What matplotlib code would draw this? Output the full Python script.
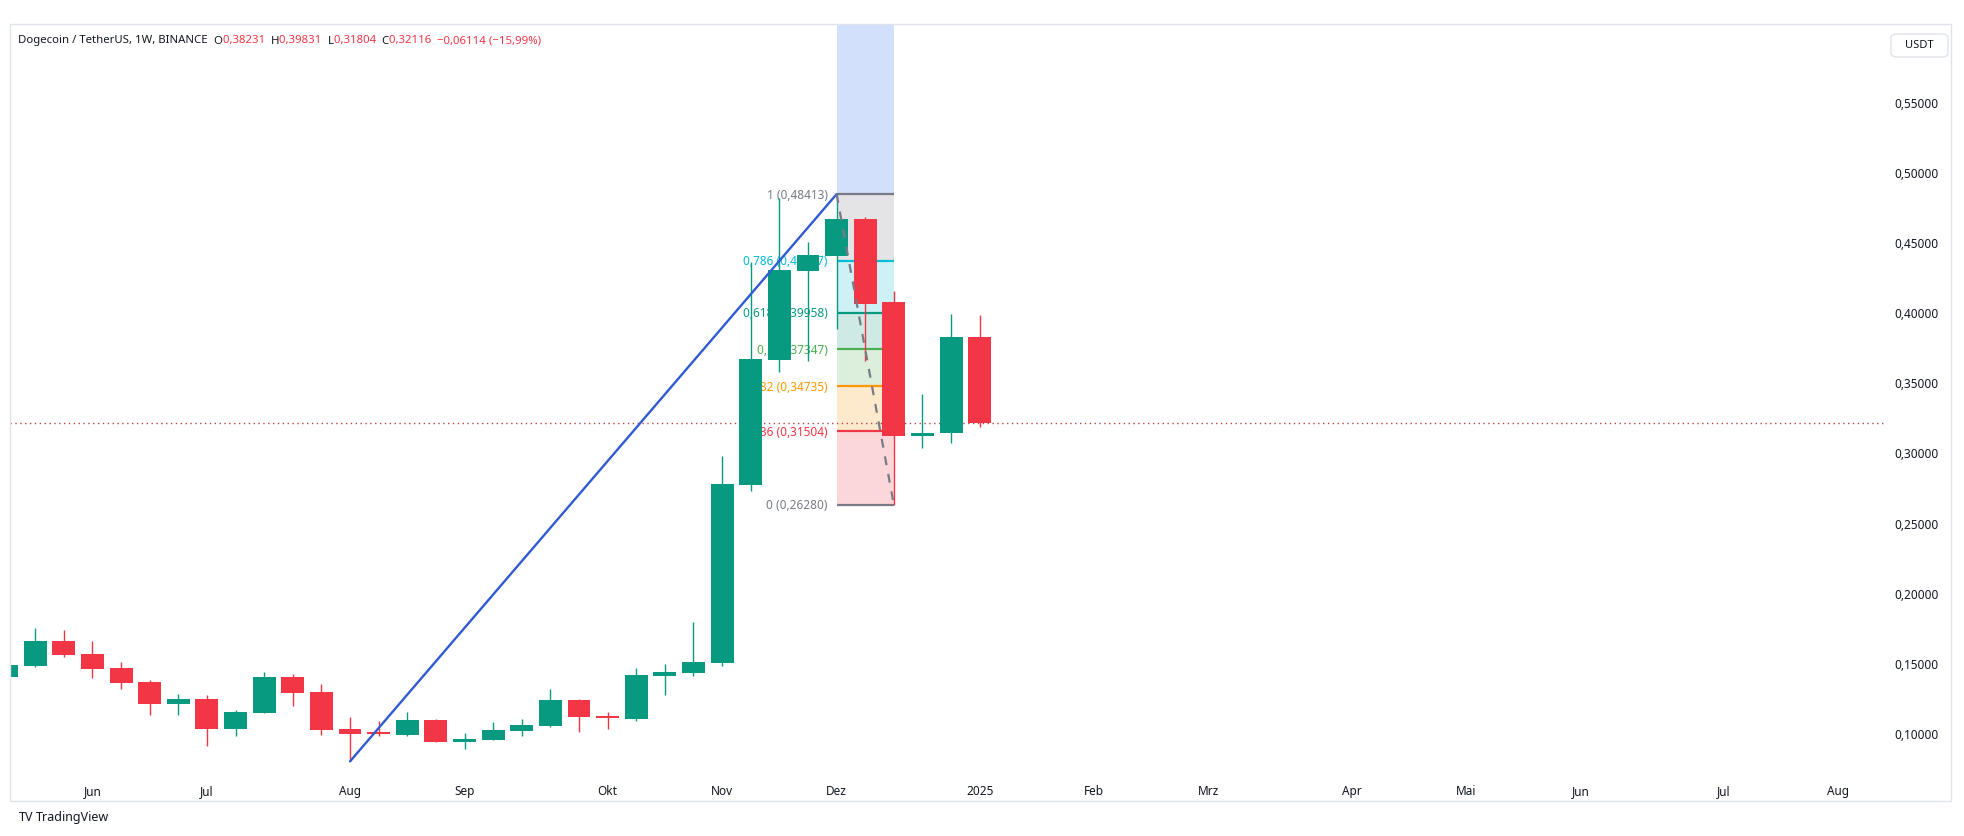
import matplotlib
matplotlib.use('Agg')
import matplotlib.pyplot as plt
from matplotlib.patches import Rectangle, FancyBboxPatch

plt.rcParams['font.family'] = ['Noto Sans', 'DejaVu Sans']

# weekly candles, week index 0 = week of 3 Jun 2024
weeks = list(range(-3, 32))
opens = [0.1401, 0.1480, 0.1656, 0.1563, 0.1463, 0.1366, 0.1207, 0.1243, 0.1029, 0.1142,
         0.1399, 0.1292, 0.1029, 0.1000, 0.0986, 0.1093, 0.0938, 0.0952, 0.1017, 0.1052,
         0.1235, 0.1114, 0.1100, 0.1409, 0.1428, 0.1499, 0.2770, 0.3660, 0.4296, 0.4402,
         0.4664, 0.4070, 0.3120, 0.3140, 0.38231]
highs = [0.1490, 0.1748, 0.1734, 0.1656, 0.1508, 0.1380, 0.1278, 0.1271, 0.1164, 0.1437,
         0.1421, 0.1349, 0.1112, 0.1083, 0.1152, 0.1098, 0.1002, 0.1081, 0.1100, 0.1314,
         0.1242, 0.1148, 0.1463, 0.1492, 0.1793, 0.2977, 0.4355, 0.4811, 0.4498, 0.48413,
         0.4680, 0.4150, 0.3420, 0.3990, 0.39831]
lows = [0.1395, 0.1473, 0.1544, 0.1392, 0.1314, 0.1128, 0.1128, 0.0910, 0.0981, 0.1140,
        0.1195, 0.0986, 0.0798, 0.0977, 0.0981, 0.0938, 0.0885, 0.0948, 0.0981, 0.1041,
        0.1009, 0.1029, 0.1088, 0.1271, 0.1409, 0.1480, 0.2727, 0.3576, 0.3654, 0.3880,
        0.3650, 0.2628, 0.3030, 0.3070, 0.31804]
closes = [0.1484, 0.1656, 0.1558, 0.1456, 0.1356, 0.1207, 0.1243, 0.1029, 0.1148, 0.1399,
          0.1285, 0.1021, 0.0993, 0.0996, 0.1093, 0.0938, 0.0957, 0.1022, 0.1057, 0.1235,
          0.1112, 0.1110, 0.1413, 0.1437, 0.1508, 0.2775, 0.3666, 0.4300, 0.4407, 0.4664,
          0.4060, 0.3120, 0.3140, 0.3820, 0.32116]

month_pos = [0, 4, 9, 13, 18, 22, 26, 31, 35, 39, 44, 48, 52, 57, 61]
month_labels = ['Jun', 'Jul', 'Aug', 'Sep', 'Okt', 'Nov', 'Dez', '2025',
                'Feb', 'Mrz', 'Apr', 'Mai', 'Jun', 'Jul', 'Aug']
price_ticks = [0.10, 0.15, 0.20, 0.25, 0.30, 0.35, 0.40, 0.45, 0.50, 0.55]

fib_ratios = ['1', '0,786', '0,618', '0,5', '0,382', '0,236', '0']
fib_prices = [0.48413, 0.43677, 0.39958, 0.37347, 0.34735, 0.31504, 0.26280]
fib_colors = ['#787b86', '#00bcd4', '#089981', '#4caf50', '#ff9800', '#f23645', '#787b86']
fib_fills = ['#e4e4e6', '#cdf1f5', '#cfe9e4', '#dcefdd', '#fdeacc', '#fbd7da']
fib_start, fib_end = 26, 28

trend_start = (9, lows[weeks.index(9)])
trend_end = (26, highs[weeks.index(26)])

last_price = closes[-1]

UP = '#089981'
DOWN = '#f23645'
TEXT = '#131722'

W, H = 1964, 837
fig = plt.figure(figsize=(W / 100, H / 100), dpi=100)
fig.patch.set_facecolor('white')

# plot area in pixels
px0, px1, py0, py1 = 10, 1885, 25, 777
ax = fig.add_axes([px0 / W, 1 - py1 / H, (px1 - px0) / W, (py1 - py0) / H])
ax.set_xlim(-2.88, 62.63)
ax.set_ylim(0.0694, 0.6054)
for s in ax.spines.values():
    s.set_visible(False)

# fib box above level 1
ax.add_patch(Rectangle((fib_start, fib_prices[0]), fib_end - fib_start, 1,
                       facecolor='#d2e0fc', edgecolor='none', zorder=1))
for i in range(len(fib_fills)):
    ax.add_patch(Rectangle((fib_start, fib_prices[i + 1]), fib_end - fib_start,
                           fib_prices[i] - fib_prices[i + 1],
                           facecolor=fib_fills[i], edgecolor='none', zorder=1))
for r, p, c in zip(fib_ratios, fib_prices, fib_colors):
    ax.plot([fib_start, fib_end], [p, p], color=c, lw=1.6, zorder=2, solid_capstyle='butt')
    lab = f"{r} ({p:.5f})".replace('.', ',')
    ax.annotate(lab, (fib_start, p), xytext=(-6.5, 0), textcoords='offset points',
                ha='right', va='center', color=c, fontsize=8.5, zorder=2)

# last price dotted line
ax.axhline(last_price, color='#b5434d', lw=1.0, ls=(0, (1, 2.5)), zorder=2)

# candles
for k, o, h, l, c in zip(weeks, opens, highs, lows, closes):
    col = UP if c >= o else DOWN
    ax.vlines(k, l, h, color=col, lw=1.0, zorder=4)
    ax.bar(k, max(abs(c - o), 0.0012), width=0.8, bottom=min(o, c),
           color=col, edgecolor='none', zorder=4)

# trend line and dashed projection
ax.plot([trend_start[0], trend_end[0]], [trend_start[1], trend_end[1]],
        color='#2f5bd3', lw=1.7, zorder=5, solid_capstyle='round')
ax.plot([fib_start, fib_end], [fib_prices[0], fib_prices[-1]], color='#787b86',
        lw=1.6, ls=(0, (4, 4)), zorder=5)

# axes ticks
ax.xaxis.set_ticks(month_pos)
ax.set_xticklabels(month_labels)
for t in ax.get_xticklabels():
    if t.get_text() == '2025':
        t.set_fontweight('bold')
ax.tick_params(axis='x', length=0, pad=6, labelsize=8.5, labelcolor=TEXT)
ax.yaxis.tick_right()
ax.set_yticks(price_ticks)
ax.set_yticklabels([f"{v:.5f}".replace('.', ',') for v in price_ticks])
ax.tick_params(axis='y', length=0, pad=7, labelsize=8.5, labelcolor=TEXT)

# outer frame
fig.patches.append(Rectangle((10 / W, 1 - 802 / H), (1951 - 10) / W, (802 - 25) / H,
                             transform=fig.transFigure, fill=False,
                             edgecolor='#e0e3eb', lw=1.0))

# USDT box
fig.patches.append(FancyBboxPatch((1891 / W, 1 - 58 / H), 57 / W, 23 / H,
                                  boxstyle='round,pad=0,rounding_size=0.004',
                                  transform=fig.transFigure, facecolor='white',
                                  edgecolor='#e0e3eb', lw=1.0))
fig.text(1919 / W, 1 - 46 / H, 'USDT', ha='center', va='center', fontsize=8, color=TEXT)

# header line
renderer = fig.canvas.get_renderer()
parts = [('Dogecoin / TetherUS, 1W, BINANCE  ', TEXT), ('O', TEXT), ('0,38231  ', DOWN),
         ('H', TEXT), ('0,39831  ', DOWN), ('L', TEXT), ('0,31804  ', DOWN),
         ('C', TEXT), ('0,32116  ', DOWN), ('\u22120,06114 (\u221215,99%)', DOWN)]
x = 18
for s, col in parts:
    t = fig.text(x / W, 1 - 41 / H, s, ha='left', va='center', fontsize=8.2, color=col)
    bb = t.get_window_extent(renderer)
    x += bb.width

# TradingView logo
fig.text(19 / W, 1 - 818 / H, 'TV', ha='left', va='center', fontsize=9,
         fontweight='bold', color=TEXT)
fig.text(36 / W, 1 - 818 / H, 'TradingView', ha='left', va='center', fontsize=9, color=TEXT)

fig.savefig('out.png', dpi=100, facecolor='white')
